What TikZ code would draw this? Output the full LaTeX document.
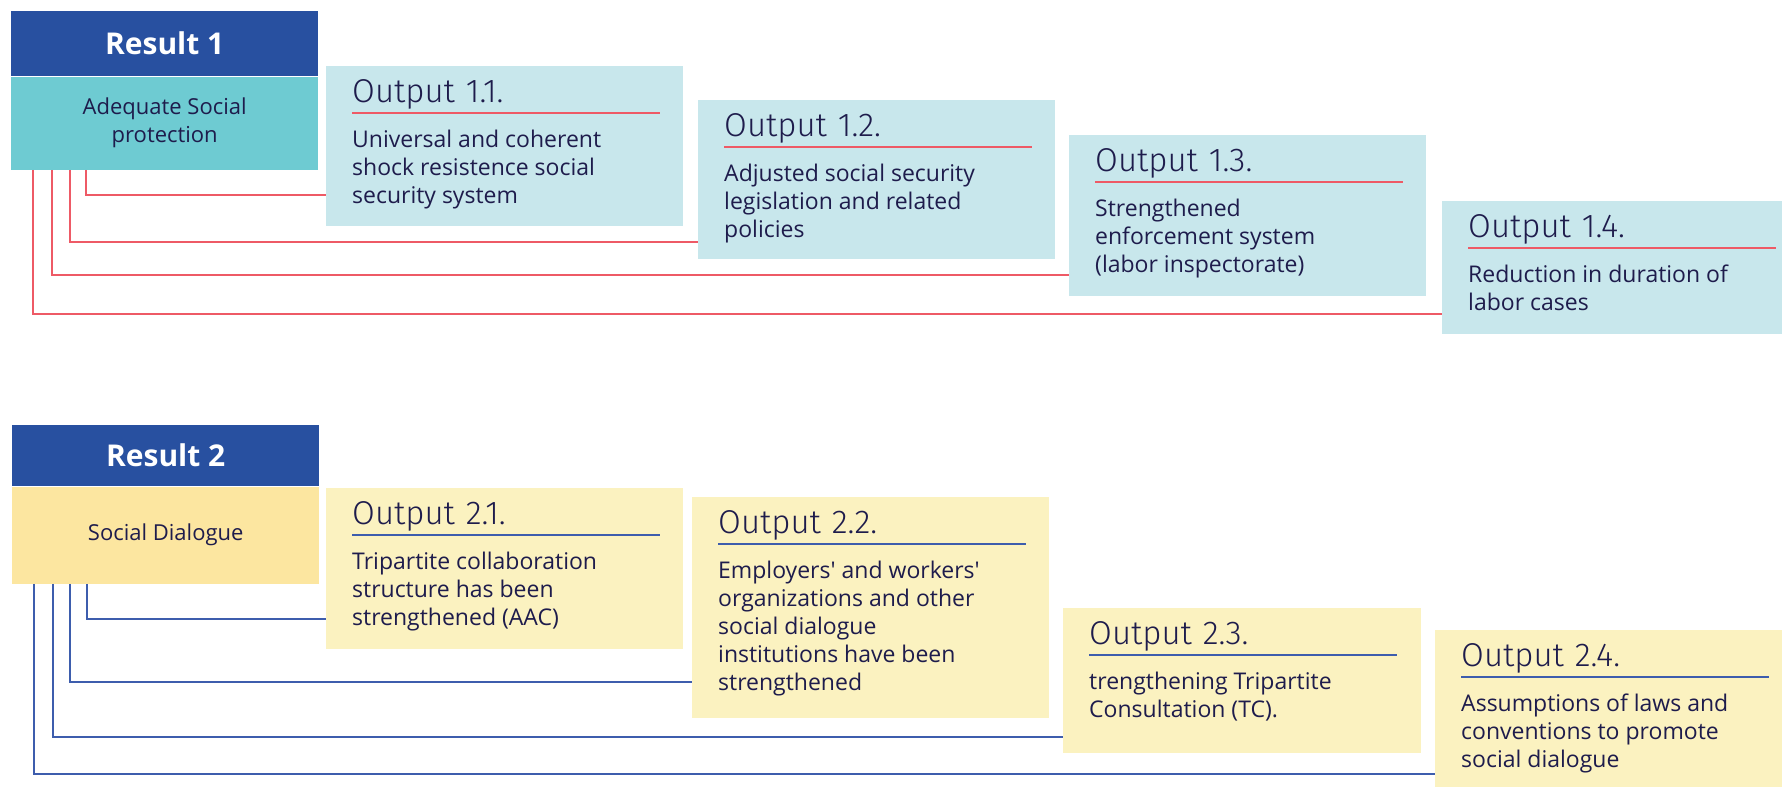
\documentclass[tikz,border=0pt]{standalone}
\usepackage{fontspec}
\setmainfont{Open Sans}
\newfontfamily\titlefont{Fira Sans}[UprightFont=* Light]
\usetikzlibrary{positioning}
\definecolor{headblue}{HTML}{2850A0}
\definecolor{tealbox}{HTML}{6ECBD2}
\definecolor{paleblue}{HTML}{C8E7EC}
\definecolor{sandbox}{HTML}{FCE6A0}
\definecolor{paleyellow}{HTML}{FBF2C0}
\definecolor{redline}{HTML}{EE5A66}
\definecolor{blueline}{HTML}{3D5DAD}
\definecolor{ink}{HTML}{1E1C4C}

\begin{document}
\begin{tikzpicture}[x=1pt,y=-1pt,
    head/.style={fill=headblue,text=white,font=\fontsize{30}{36}\selectfont\bfseries,minimum width=307pt,inner sep=0pt,anchor=north west},
    desc/.style={text=ink,font=\fontsize{22}{28}\selectfont,align=center,minimum width=307pt,inner sep=0pt},
    outbox/.style={anchor=north west,inner sep=0pt,minimum width=357pt},
    outtitle/.style={anchor=base west,inner sep=0pt,text depth=11pt,text width=308pt,align=left,text=ink,font=\titlefont\fontsize{33}{38}\selectfont},
    outtext/.style={anchor=north west,inner sep=0pt,text=ink,font=\fontsize{23}{28}\selectfont,align=left},
    link/.style={line width=1.5pt}]
    \useasboundingbox (0,0) rectangle (1782,787);

    \node[head,minimum height=65pt] (r1h) at (11,11) {Result 1};
    \node[desc,fill=tealbox,minimum height=93pt,below=0pt of r1h] (r1d) {Adequate Social\\protection};

    \node[outbox,fill=paleblue,minimum height=160pt] (o11) at (326,66) {};
    \node[outbox,fill=paleblue,minimum height=159pt] (o12) at (698,100) {};
    \node[outbox,fill=paleblue,minimum height=161pt] (o13) at (1069,135) {};
    \node[outbox,fill=paleblue,minimum height=133pt,minimum width=340pt] (o14) at (1442,201) {};

    \node[outtitle] (t11) at ([xshift=26pt,yshift=-36pt]o11.north west) {Output 1.1.};
    \node[outtitle] (t12) at ([xshift=26pt,yshift=-36pt]o12.north west) {Output 1.2.};
    \node[outtitle] (t13) at ([xshift=26pt,yshift=-36pt]o13.north west) {Output 1.3.};
    \node[outtitle] (t14) at ([xshift=26pt,yshift=-36pt]o14.north west) {Output 1.4.};

    \node[outtext] (b11) at ([xshift=26pt,yshift=-64pt]o11.north west) {Universal and coherent\\shock resistence social\\security system};
    \node[outtext] (b12) at ([xshift=26pt,yshift=-64pt]o12.north west) {Adjusted social security\\legislation and related\\policies};
    \node[outtext] (b13) at ([xshift=26pt,yshift=-64pt]o13.north west) {Strengthened\\enforcement system\\(labor inspectorate)};
    \node[outtext] (b14) at ([xshift=26pt,yshift=-64pt]o14.north west) {Reduction in duration of\\labor cases};

    \draw[link,redline] (t11.south west) -- (t11.south east);
    \draw[link,redline] (t12.south west) -- (t12.south east);
    \draw[link,redline] (t13.south west) -- (t13.south east);
    \draw[link,redline] (t14.south west) -- (t14.south east);

    \coordinate (k11) at (86,195);
    \coordinate (k12) at (70,242);
    \coordinate (k13) at (52,275);
    \coordinate (k14) at (33,314);
    \draw[link,redline] (k11 |- r1d.south) |- (o11.west |- k11);
    \draw[link,redline] (k12 |- r1d.south) |- (o12.west |- k12);
    \draw[link,redline] (k13 |- r1d.south) |- (o13.west |- k13);
    \draw[link,redline] (k14 |- r1d.south) |- (o14.west |- k14);

    \node[head,minimum height=61pt] (r2h) at (12,425) {Result 2};
    \node[desc,fill=sandbox,minimum height=97pt,below=0pt of r2h] (r2d) {Social Dialogue};

    \node[outbox,fill=paleyellow,minimum height=161pt] (o21) at (326,488) {};
    \node[outbox,fill=paleyellow,minimum height=221pt] (o22) at (692,497) {};
    \node[outbox,fill=paleyellow,minimum height=145pt,minimum width=358pt] (o23) at (1063,608) {};
    \node[outbox,fill=paleyellow,minimum height=157pt,minimum width=347pt] (o24) at (1435,630) {};

    \node[outtitle] (t21) at ([xshift=26pt,yshift=-36pt]o21.north west) {Output 2.1.};
    \node[outtitle] (t22) at ([xshift=26pt,yshift=-36pt]o22.north west) {Output 2.2.};
    \node[outtitle] (t23) at ([xshift=26pt,yshift=-36pt]o23.north west) {Output 2.3.};
    \node[outtitle] (t24) at ([xshift=26pt,yshift=-36pt]o24.north west) {Output 2.4.};

    \node[outtext] (b21) at ([xshift=26pt,yshift=-64pt]o21.north west) {Tripartite collaboration\\structure has been\\strengthened (AAC)};
    \node[outtext] (b22) at ([xshift=26pt,yshift=-64pt]o22.north west) {Employers\textquotesingle{} and workers\textquotesingle\\organizations and other\\social dialogue\\institutions have been\\strengthened};
    \node[outtext] (b23) at ([xshift=26pt,yshift=-64pt]o23.north west) {trengthening Tripartite\\Consultation (TC).};
    \node[outtext] (b24) at ([xshift=26pt,yshift=-64pt]o24.north west) {Assumptions of laws and\\conventions to promote\\social dialogue};

    \draw[link,blueline] (t21.south west) -- (t21.south east);
    \draw[link,blueline] (t22.south west) -- (t22.south east);
    \draw[link,blueline] (t23.south west) -- (t23.south east);
    \draw[link,blueline] (t24.south west) -- (t24.south east);

    \coordinate (k21) at (87,619);
    \coordinate (k22) at (70,682);
    \coordinate (k23) at (53,737);
    \coordinate (k24) at (34,774);
    \draw[link,blueline] (k21 |- r2d.south) |- (o21.west |- k21);
    \draw[link,blueline] (k22 |- r2d.south) |- (o22.west |- k22);
    \draw[link,blueline] (k23 |- r2d.south) |- (o23.west |- k23);
    \draw[link,blueline] (k24 |- r2d.south) |- (o24.west |- k24);
\end{tikzpicture}
\end{document}
